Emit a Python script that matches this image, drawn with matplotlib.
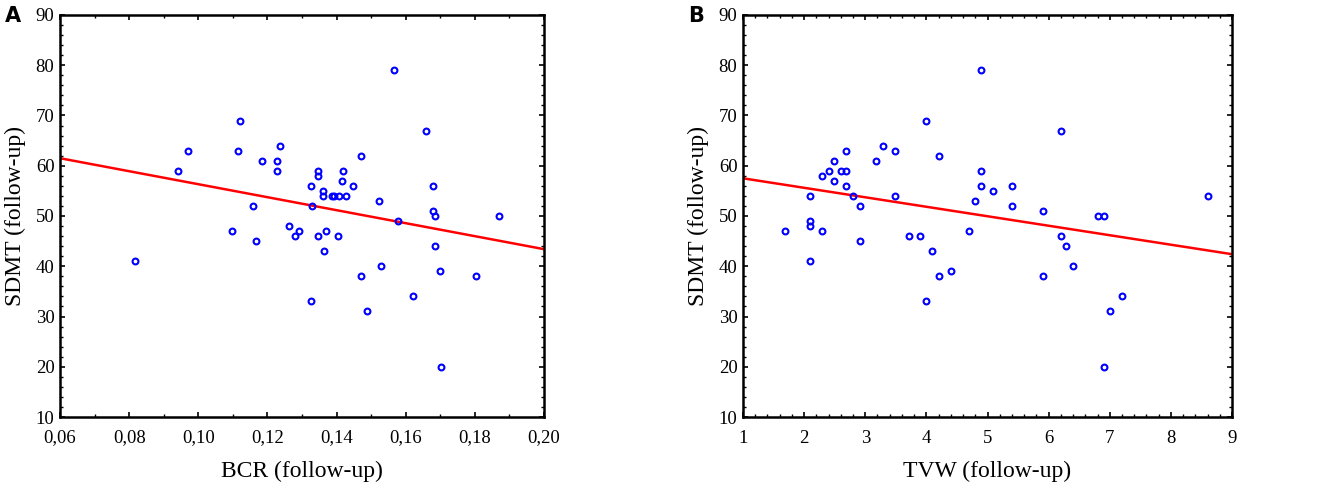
import numpy as np
import matplotlib
matplotlib.use("Agg")
import matplotlib.pyplot as plt
from matplotlib.ticker import MultipleLocator, FuncFormatter

# panel A: BCR vs SDMT
bcr = [0.1566, 0.112, 0.166, 0.097, 0.1115, 0.1236, 0.1184, 0.1228, 0.147, 0.094,
       0.1228, 0.1347, 0.1347, 0.142, 0.1416, 0.1326, 0.1448, 0.168, 0.1361, 0.1361,
       0.1387, 0.1393, 0.1407, 0.1427, 0.1523, 0.1158, 0.1329, 0.168, 0.1685, 0.187,
       0.1578, 0.1262, 0.1098, 0.129, 0.137, 0.128, 0.1347, 0.1404, 0.1167, 0.1685,
       0.1364, 0.0817, 0.1528, 0.147, 0.170, 0.1803, 0.1326, 0.162, 0.1489, 0.1703]
sdmt_a = [79, 69, 67, 63, 63, 64, 61, 61, 62, 59,
          59, 59, 58, 59, 57, 56, 56, 56, 55, 54,
          54, 54, 54, 54, 53, 52, 52, 51, 50, 50,
          49, 48, 47, 47, 47, 46, 46, 46, 45, 44,
          43, 41, 40, 38, 39, 38, 33, 34, 31, 20]
fit_a_x = [0.06, 0.20]
fit_a_y = [61.5, 43.4]

# panel B: TVW vs SDMT
tvw = [4.90, 3.99, 6.2, 2.68, 3.29, 3.49, 4.2, 2.49, 3.18, 2.29,
       2.41, 2.6, 2.68, 4.9, 2.49, 2.68, 4.9, 5.4, 5.09, 2.10,
       2.80, 3.49, 8.61, 4.79, 2.91, 5.4, 5.9, 6.81, 6.9, 2.10,
       2.10, 1.69, 2.29, 4.70, 3.71, 3.90, 6.2, 2.91, 6.29, 4.09,
       2.10, 6.40, 4.40, 4.2, 5.9, 3.99, 7.20, 7.0, 6.9]
sdmt_b = [79, 69, 67, 63, 64, 63, 62, 61, 61, 58,
          59, 59, 59, 59, 57, 56, 56, 56, 55, 54,
          54, 54, 54, 53, 52, 52, 51, 50, 50, 49,
          48, 47, 47, 47, 46, 46, 46, 45, 44, 43,
          41, 40, 39, 38, 38, 33, 34, 31, 20]
fit_b_x = [1, 9]
fit_b_y = [57.5, 42.4]

serif = "Liberation Serif"

fig = plt.figure(figsize=(13.25, 4.9), dpi=100)
ax1 = fig.add_axes([60/1325, 73/490, 484/1325, 402/490])
ax2 = fig.add_axes([743/1325, 73/490, 489/1325, 402/490])

def style(ax):
    ax.set_ylim(10, 90)
    ax.yaxis.set_major_locator(MultipleLocator(10))
    ax.yaxis.set_minor_locator(MultipleLocator(2))
    ax.tick_params(which="both", direction="in", top=True, right=True,
                   labelsize=13.5)
    ax.tick_params(axis="y", pad=4)
    ax.tick_params(axis="x", pad=9)
    ax.tick_params(which="major", length=3.5, width=1.2)
    ax.tick_params(which="minor", length=2, width=1)
    for lab in ax.get_xticklabels() + ax.get_yticklabels():
        lab.set_fontfamily(serif)
    for s in ax.spines.values():
        s.set_linewidth(1.8)
    ax.set_ylabel("SDMT (follow-up)", fontfamily=serif, fontsize=17, labelpad=7)

ax1.plot(fit_a_x, fit_a_y, color="red", lw=1.8, zorder=2)
ax1.plot(bcr, sdmt_a, "o", mfc="none", mec="blue", ms=4.2, mew=1.5, zorder=3)
ax1.set_xlim(0.06, 0.20)
ax1.xaxis.set_major_locator(MultipleLocator(0.02))
ax1.xaxis.set_minor_locator(MultipleLocator(0.01))
ax1.xaxis.set_major_formatter(FuncFormatter(lambda v, p: f"{v:.2f}".replace(".", ",")))
style(ax1)
ax1.set_xlabel("BCR (follow-up)", fontfamily=serif, fontsize=17, labelpad=10)

ax2.plot(fit_b_x, fit_b_y, color="red", lw=1.8, zorder=2)
ax2.plot(tvw, sdmt_b, "o", mfc="none", mec="blue", ms=4.2, mew=1.5, zorder=3)
ax2.set_xlim(1, 9)
ax2.xaxis.set_major_locator(MultipleLocator(1))
ax2.xaxis.set_minor_locator(MultipleLocator(0.2))
style(ax2)
ax2.set_xlabel("TVW (follow-up)", fontfamily=serif, fontsize=17, labelpad=10)

fig.text(13/1325, 1 - 16/490, "A", fontsize=15, fontweight="bold",
         fontfamily="DejaVu Sans", ha="center", va="center")
fig.text(696/1325, 1 - 16/490, "B", fontsize=15, fontweight="bold",
         fontfamily="DejaVu Sans", ha="center", va="center")

fig.savefig("out.png", dpi=100)
